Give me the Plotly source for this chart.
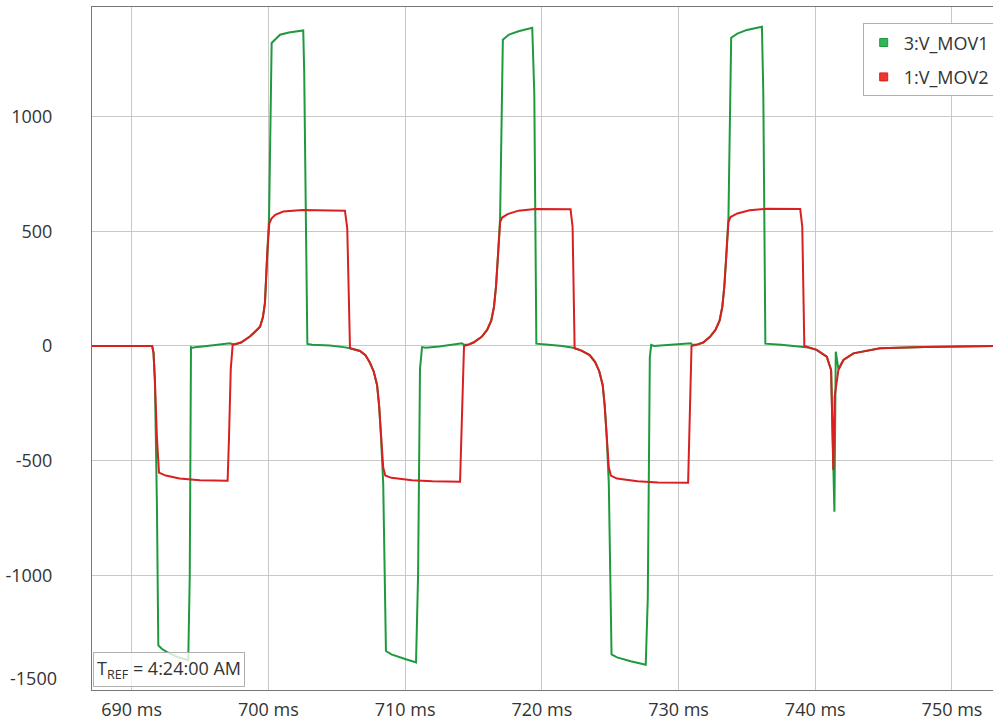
import plotly.graph_objects as go

# ---- data (time in ms, voltage) ----
t_mov1 = [687.0, 691.50, 691.60, 691.70, 691.85, 691.95, 692.2, 692.56, 693.3, 694.14, 694.25, 694.34, 694.45, 694.63, 695.5, 697.0, 697.19, 697.39,
          697.6, 698.0, 698.65, 699.0, 699.39, 699.6, 699.75, 699.92, 700.05, 700.24, 700.85, 701.5, 702.44, 702.55, 702.62, 702.85, 703.2, 704.5, 705.5, 705.97,
          706.7, 707.1, 707.4, 707.7, 707.95, 708.1, 708.24, 708.4, 708.6, 709.0, 710.0, 710.8, 710.95, 711.09, 711.24, 711.5, 712.5, 713.5, 714.16, 714.31,
          714.6, 715.0, 715.6, 716.0, 716.3, 716.5, 716.65, 716.8, 716.95, 717.15, 717.6, 718.3, 719.1, 719.3, 719.45, 719.6, 720.5, 721.5, 722.3, 722.4,
          722.9, 723.5, 723.9, 724.2, 724.45, 724.6, 724.75, 724.9, 725.1, 725.5, 726.5, 727.6, 727.75, 727.9, 728.0, 728.2, 729.0, 730.0, 730.9, 731.0,
          731.3, 731.8, 732.3, 732.7, 733.0, 733.2, 733.35, 733.5, 733.65, 733.85, 734.3, 735.0, 736.0, 736.1, 736.2, 736.35, 737.5, 738.5, 739.1, 739.5,
          740.1, 740.84, 741.16, 741.30, 741.40, 741.50, 741.6, 741.69, 742.06, 742.79, 744.74, 748.0, 753.0]
v_mov1 = [0, 0, -30, -150, -700, -1305, -1320, -1334, -1355, -1370, -1000, -5, -8, -6, 0, 10, 12, 8,
          8, 15, 41, 60, 84, 125, 188, 405, 560, 1321, 1357, 1367, 1374, 1376, 1200, 9, 5, 2, -5, -10,
          -22, -40, -70, -110, -170, -260, -400, -600, -1330, -1345, -1365, -1380, -1000, -100, -5, -8, -2, 5, 12, 5,
          5, 15, 40, 70, 110, 170, 260, 400, 560, 1335, 1358, 1372, 1385, 1387, 1100, 10, 5, 0, -8, -10,
          -20, -40, -70, -110, -170, -260, -400, -600, -1345, -1358, -1375, -1390, -1100, -50, 5, 0, 3, 8, 12, 5,
          5, 15, 40, 70, 110, 170, 260, 400, 560, 1344, 1362, 1378, 1390, 1392, 1100, 10, 5, -2, -5, -7,
          -17, -47, -105, -400, -723, -25, -70, -100, -61, -32, -10, -4, 0]

t_mov2 = [687.0, 691.50, 691.60, 691.70, 691.85, 692.00, 692.5, 693.5, 695.0, 697.02, 697.12, 697.25, 697.39,
          697.6, 698.0, 698.65, 699.0, 699.39, 699.6, 699.75, 699.92, 700.07, 700.24, 700.5, 701.09, 702.5, 705.6, 705.77, 705.97,
          706.7, 707.1, 707.4, 707.7, 707.95, 708.1, 708.24, 708.4, 708.55, 709.0, 710.5, 712.0, 714.02, 714.16, 714.31,
          714.6, 715.0, 715.6, 716.0, 716.3, 716.5, 716.65, 716.8, 716.95, 717.1, 717.5, 718.3, 719.5, 722.1, 722.25, 722.4,
          722.9, 723.5, 723.9, 724.2, 724.45, 724.6, 724.75, 724.9, 725.05, 725.5, 727.0, 728.5, 730.7, 730.85, 730.95,
          731.3, 731.8, 732.3, 732.7, 733.0, 733.2, 733.35, 733.5, 733.65, 733.8, 734.3, 735.2, 736.5, 738.9, 739.05, 739.2,
          739.5, 740.1, 740.84, 741.16, 741.32, 741.42, 741.69, 742.06, 742.79, 744.74, 748.0, 753.0]
v_mov2 = [0, 0, -30, -150, -400, -552, -565, -578, -585, -588, -400, -100, 5,
          8, 15, 41, 60, 84, 125, 188, 405, 535, 557, 572, 586, 593, 590, 513, -10,
          -22, -40, -70, -110, -170, -260, -400, -530, -565, -575, -585, -590, -592, -300, 0,
          5, 15, 40, 70, 110, 170, 260, 400, 540, 560, 575, 590, 597, 596, 520, -10,
          -20, -40, -70, -110, -170, -260, -400, -530, -565, -578, -590, -595, -596, -300, 0,
          5, 15, 40, 70, 110, 170, 260, 400, 540, 562, 578, 592, 598, 597, 520, 0,
          -5, -17, -47, -105, -541, -221, -105, -61, -32, -10, -4, 0]

series_names = ["3:V_MOV1", "1:V_MOV2"]
series_colors = ["#1e9a3e", "#d91f1f"]
legend_fill = ["#34b35a", "#ee3333"]
x_ticks = [690, 700, 710, 720, 730, 740, 750]
y_ticks = [-1500, -1000, -500, 0, 500, 1000]
tref_text = "T<sub>REF</sub> = 4:24:00 AM"

FONT = "Open Sans"
TXT = "#333333"

fig = go.Figure()
fig.add_trace(go.Scatter(x=t_mov1, y=v_mov1, mode="lines", line=dict(color=series_colors[0], width=2),
                         showlegend=False, hoverinfo="skip"))
fig.add_trace(go.Scatter(x=t_mov2, y=v_mov2, mode="lines", line=dict(color=series_colors[1], width=2),
                         showlegend=False, hoverinfo="skip"))
# legend entries (square swatches)
for i, (name, c, fc) in enumerate(zip(series_names, series_colors, legend_fill)):
    fig.add_trace(go.Scatter(x=[None], y=[None], mode="markers", name=name, legendgroup=f"g{i}",
                             marker=dict(symbol="square", size=8, color=fc, line=dict(color=c, width=1))))

# y tick labels: bottom one sits slightly above its gridline as in the reference
y_labels = [("" if v == y_ticks[0] else str(v)) for v in y_ticks]

fig.update_layout(
    width=993, height=721,
    margin=dict(l=92, r=0, t=7, b=31, autoexpand=False),
    paper_bgcolor="white", plot_bgcolor="white",
    font=dict(family=FONT, size=18, color=TXT),
    legend=dict(x=(862.7 - 92) / 901, y=(690 - 23.3) / 683, xanchor="left", yanchor="top",
                bgcolor="white", bordercolor="#b0b0b0", borderwidth=1,
                font=dict(family=FONT, size=18, color=TXT),
                itemwidth=30, tracegroupgap=8),
    annotations=[
        dict(text=tref_text, xref="paper", yref="paper", x=0.001, y=0.004,
             xanchor="left", yanchor="bottom", showarrow=False,
             font=dict(family=FONT, size=18, color=TXT),
             bgcolor="rgba(255,255,255,0.8)", bordercolor="#b0b0b0", borderwidth=1, borderpad=3),
        dict(text=str(y_ticks[0]), xref="paper", yref="y", x=0, y=y_ticks[0], yshift=12,
             xanchor="right", yanchor="middle", xshift=-33, showarrow=False,
             font=dict(family=FONT, size=18, color=TXT)),
    ],
)
fig.update_xaxes(range=[687.1, 753.0], tickvals=x_ticks, ticktext=[f"{v} ms" for v in x_ticks],
                 showgrid=True, gridcolor="#c8c8c8", gridwidth=1, zeroline=False,
                 showline=True, linecolor="#777777", linewidth=1, mirror=True, ticks="",
                 ticklabelstandoff=3, tickfont=dict(size=18))
fig.update_yaxes(range=[-1500, 1478], tickvals=y_ticks, ticktext=y_labels,
                 showgrid=True, gridcolor="#c8c8c8", gridwidth=1, zeroline=False,
                 showline=True, linecolor="#777777", linewidth=1, ticks="",
                 ticklabelstandoff=35)

fig.write_html("out.html", config={"displayModeBar": False},
               post_script="document.body.style.margin='0';document.body.style.overflow='hidden';")
